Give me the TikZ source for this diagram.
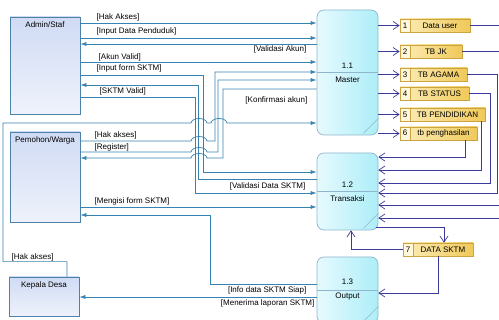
\documentclass[tikz,border=0pt]{standalone}
\usepackage{fontspec}
\setmainfont{Liberation Sans}
\usetikzlibrary{arrows.meta,positioning,calc}
\definecolor{dfFlow}{HTML}{3583B0}
\definecolor{dfStore}{HTML}{3A3A9C}
\definecolor{dfEntLine}{HTML}{4C82A8}
\definecolor{dfEntTop}{HTML}{D0DBF4}
\definecolor{dfEntBot}{HTML}{EEF2FB}
\definecolor{dfProcLine}{HTML}{8FB6CC}
\definecolor{dfProcL}{HTML}{E6FAFE}
\definecolor{dfProcR}{HTML}{ADEEF8}
\definecolor{dfStLine}{HTML}{C9A441}
\definecolor{dfStL}{HTML}{FCEDB8}
\definecolor{dfStR}{HTML}{F0C95A}
\definecolor{dfStNum}{HTML}{FFF7DC}
\newcommand{\dsrow}[3]{\makebox[10pt]{#1}\makebox[#2]{#3}}

\begin{document}
\begin{tikzpicture}[x=1pt,y=-1pt,
  font=\fontsize{8}{9.5}\selectfont,
  entity/.style={draw=dfEntLine,line width=0.7pt,top color=dfEntTop,bottom color=dfEntBot,
                 minimum width=70pt,inner sep=0pt},
  proc/.style={draw=dfProcLine,line width=0.7pt,rounded corners=7pt,left color=dfProcL,right color=dfProcR,
               minimum width=61pt,align=center,font=\fontsize{8}{14}\selectfont},
  store/.style={draw=dfStLine,line width=0.6pt,left color=dfStL,right color=dfStR,
                minimum height=13pt,inner sep=0pt,
                path picture={\fill[dfStNum] (path picture bounding box.north west) rectangle
                  ([xshift=10pt]path picture bounding box.south west);
                  \draw[dfStLine,line width=0.6pt] ([xshift=10pt]path picture bounding box.north west) --
                  ([xshift=10pt]path picture bounding box.south west);}},
  lbl/.style={inner sep=0.5pt},
  flow/.style={draw=dfFlow,line width=0.7pt,-{Latex[length=6pt,width=4pt]}},
  sflow/.style={draw=dfStore,line width=0.7pt,-{Straight Barb[length=6pt,width=8pt]}}]

\useasboundingbox (0,0) rectangle (499,320);
\clip (0,0) rectangle (499,320);

% external entities
\node[entity,minimum height=97pt] (admin) at (45,65.5) {};
\node[below=2pt of admin.north] (adminTxt) {Admin/Staf};
\node[entity,minimum height=90pt] (pemohon) at (45,177) {};
\node[below=2pt of pemohon.north] (pemohonTxt) {Pemohon/Warga};
\node[entity,minimum height=39pt] (kepala) at (44,296.5) {};
\node[below=2pt of kepala.north] (kepalaTxt) {Kepala Desa};

% processes
\node[proc,minimum height=125pt] (master) at (347.5,72.5) {1.1\\Master};
\node[proc,minimum height=77pt] (transaksi) at (347.5,191.5) {1.2\\Transaksi};
\node[proc,minimum height=66pt] (output) at (347.5,290) {1.3\\Output};
\foreach \p in {master,transaksi,output}{
  \draw[dfProcLine,line width=0.6pt] (\p.west) -- (\p.east);
  \draw[dfProcLine,line width=0.5pt] ($(\p.south east)+(-15,-2)$) -- ($(\p.south east)+(0,-17)$);
}

% data stores
\node[store] (s1) at (435,25.5) {\dsrow{1}{60pt}{Data user}};
\node[store] (s2) at (431,51.5) {\dsrow{2}{52pt}{TB JK}};
\node[store] (s3) at (433.5,74.5) {\dsrow{3}{57pt}{TB AGAMA}};
\node[store] (s4) at (434.5,93.5) {\dsrow{4}{59pt}{TB STATUS}};
\node[store] (s5) at (442.5,114.5) {\dsrow{5}{75pt}{TB PENDIDIKAN}};
\node[store] (s6) at (438.5,133.5) {\dsrow{6}{67pt}{tb penghasilan}};
\node[store] (s7) at (438,249.5) {\dsrow{7}{60pt}{DATA SKTM}};

% flows admin
\draw[flow] (admin.east |- 0,23) -- (master.west |- 0,23);
\draw[flow] (admin.east |- 0,38) -- (master.west |- 0,38);
\draw[flow] (master.west |- 0,44) -- (admin.east |- 0,44);
\draw[flow] (admin.east |- 0,62) -- (master.west |- 0,62);
\draw[flow] (admin.east |- 0,75) -- (203,75) |- (transaksi.west |- 0,172);
\draw[flow] (transaksi.west |- 0,179) -| (198,85) -- (admin.east |- 0,85);
\draw[flow] (admin.east |- 0,97) -- (195,97) |- (transaksi.west |- 0,193);

% flows pemohon
\draw[flow] (pemohon.east |- 0,141) -- (191,141) .. controls (192,135) and (206,135) .. (207,141)
  -- (215,141) |- (master.west |- 0,72);
\draw[flow] (pemohon.east |- 0,152) -- (191,152) .. controls (192,146) and (206,146) .. (207,152)
  -- (218,152) |- (master.west |- 0,80);
\draw[flow] (master.west |- 0,89) -- (223,89) -- (223,158) -- (207,158)
  .. controls (206,152) and (192,152) .. (191,158) -- (pemohon.east |- 0,158);
\draw[flow] (pemohon.east |- 0,207) -- (transaksi.west |- 0,207);
\draw[flow] (output.west |- 0,284) -- (210,284) -- (210,215) -- (pemohon.east |- 0,215);

% flows kepala desa
\draw[flow] ($(kepala.north)+(23,0)$) -- ++(0,-15) -| (3,123) -- (191,123)
  .. controls (192,117) and (206,117) .. (207,123) -- (211,123)
  .. controls (212,117) and (226,117) .. (227,123) -- (master.west |- 0,123);
\draw[flow] (output.west |- 0,297) -- (kepala.east |- 0,297);

% flow labels
\node[lbl,anchor=west] (lHakA) at (96,17) {[Hak Akses]};
\node[lbl,anchor=west] (lInput) at (96,31) {[Input Data Penduduk]};
\node[lbl,anchor=east] (lValAk) at (307,49) {[Validasi Akun]};
\node[lbl,anchor=west] (lAkun) at (98,57) {[Akun Valid]};
\node[lbl,anchor=west] (lForm) at (96,68) {[Input form SKTM]};
\node[lbl,anchor=west] (lSktm) at (99,91) {[SKTM Valid]};
\node[lbl,anchor=east] (lKonf) at (308,100) {[Konfirmasi akun]};
\node[lbl,anchor=west] (lHakP) at (94,135) {[Hak akses]};
\node[lbl,anchor=west] (lReg) at (94,147) {[Register]};
\node[lbl,anchor=east] (lValD) at (306,186) {[Validasi Data SKTM]};
\node[lbl,anchor=west] (lMeng) at (94,201) {[Mengisi form SKTM]};
\node[lbl,anchor=east] (lInfo) at (307,290) {[Info data SKTM Siap]};
\node[lbl,anchor=east] (lTerima) at (315,303) {[Menerima laporan SKTM]};
\node[lbl,anchor=west] (lHakK) at (11,257) {[Hak akses]};

% store flows
\foreach \s in {s1,s2,s3,s4,s5,s6}
  \draw[sflow] (master.east |- \s.west) -- (\s.west);
\draw[sflow] ($(s6.south)+(26.5,0)$) |- (transaksi.east |- 0,157);
\draw[sflow] ($(s5.south east)+(-4,0)$) |- (transaksi.east |- 0,170);
\draw[sflow] (s4.east) -- ++(21,0) |- (transaksi.east |- 0,183);
\draw[sflow] (s3.east) -- ++(30,0) |- (transaksi.east |- 0,193);
\draw[sflow] (s2.east) -- ++(43,0) |- (transaksi.east |- 0,205);
\draw[sflow] (s1.east) -- ++(42,0) |- (transaksi.east |- 0,218);
\draw[sflow] ($(transaksi.south east)+(-2,-3)$) -| ($(s7.north)+(6,0)$);
\draw[sflow] (s7.west) -| ($(transaksi.south)+(3.5,0)$);
\draw[sflow] (s7.south) |- ($(output.east)+(0,3)$);
\end{tikzpicture}
\end{document}
